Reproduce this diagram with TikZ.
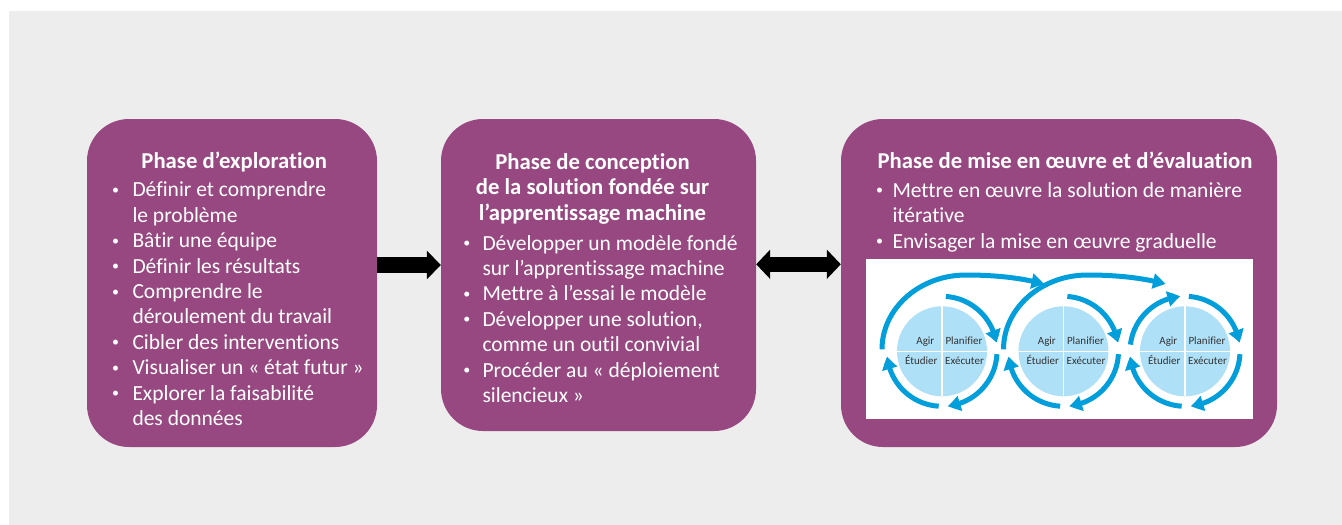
\documentclass[tikz,border=0pt]{standalone}
\usepackage{fontspec}
\setmainfont{Carlito}[Ligatures=NoCommon]
\usetikzlibrary{arrows.meta,bending}
\definecolor{bggray}{HTML}{EDEDED}
\definecolor{plum}{HTML}{984880}
\definecolor{cycblue}{HTML}{009EDB}
\definecolor{qblue}{HTML}{AEE0F7}
\definecolor{qtext}{HTML}{333333}
\newcommand\bul[1]{\llap{\makebox[0pt]{\raisebox{2.4pt}{\fontsize{14}{14}\selectfont •}}\hspace{#1pt}}}
\newcommand\listfont{\fontsize{21.5}{25.4}\selectfont}
\newcommand\titlefont{\fontsize{22.7}{25.5}\selectfont\bfseries}
\begin{document}
\begin{tikzpicture}[x=1pt,y=-1pt,
  phasebox/.style={rectangle, rounded corners=42pt, fill=plum, inner sep=0pt},
  titletext/.style={text=white, inner sep=0pt, anchor=base, font=\titlefont},
  listtext/.style={text=white, inner sep=0pt, anchor=base west, font=\listfont},
  bigarrow/.style={draw=black, line width=16pt},
  cycarrow/.style={draw=cycblue, line width=5pt, -{Triangle[length=12.5pt,width=15pt,bend]}},
  qlabel/.style={text=qtext, inner sep=0pt, font=\fontsize{11}{13}\selectfont},
]
\useasboundingbox (0,0) rectangle (1342,525);
\fill[white] (0,0) rectangle (1342,525);
\fill[bggray] (9,11) rectangle (1342,525);

% phase boxes
\node[phasebox, minimum width=290pt, minimum height=328pt] (b1) at (232,283) {};
\node[phasebox, minimum width=315pt, minimum height=312pt] (b2) at (598.5,275) {};
\node[phasebox, minimum width=436pt, minimum height=328pt] (b3) at (1059,283) {};

% connectors
\coordinate (ya) at (0,265);
\coordinate (yb) at (0,264.3);
\draw[bigarrow, -{Triangle[length=14pt,width=28pt]}] (b1.east |- ya) -- (b2.west |- ya);
\draw[draw=black, line width=14.7pt, {Triangle[length=14pt,width=28.6pt]}-{Triangle[length=14pt,width=28.6pt]}] (b2.east |- yb) -- (b3.west |- yb);

% titles
\node[titletext] (t1) at (234.2,168.3) {Phase d’exploration};
\node[titletext] (t2) at (592.5,169.3) {\begin{tabular}[t]{@{}c@{}}Phase de conception\\de la solution fondée sur\\l’apprentissage machine\end{tabular}};
\node[titletext] (t3) at (1065,168.3) {Phase de mise en œuvre et d’évaluation};

% lists
\node[listtext] (l1) at (132.3,196.8) {\begin{tabular}[t]{@{}l@{}}
\bul{17}Définir et comprendre\\
le problème\\
\bul{17}Bâtir une équipe\\
\bul{17}Définir les résultats\\
\bul{17}Comprendre le\\
déroulement du travail\\
\bul{17}Cibler des interventions\\
\bul{17}Visualiser un «~état futur~»\\
\bul{17}Explorer la faisabilité\\
des données\end{tabular}};
\node[listtext] (l2) at (482.3,250) {\begin{tabular}[t]{@{}l@{}}
\bul{15.6}Développer un modèle fondé\\
sur l’apprentissage machine\\
\bul{15.6}Mettre à l’essai le modèle\\
\bul{15.6}Développer une solution,\\
comme un outil convivial\\
\bul{15.6}Procéder au «~déploiement\\
silencieux~»\end{tabular}};
\node[listtext] (l3) at (892.3,197.3) {\begin{tabular}[t]{@{}l@{}}
\bul{13}Mettre en œuvre la solution de manière\\
itérative\\
\bul{13}Envisager la mise en œuvre graduelle\end{tabular}};

% PDCA panel
\node[fill=white, inner sep=0pt, minimum width=387pt, minimum height=160pt] (panel) at (1059.5,339) {};
\coordinate (c1) at (942,351.3);
\coordinate (c2) at (1063.5,351.3);
\coordinate (c3) at (1185,351.3);
\foreach \c in {c1,c2,c3}{
  \fill[qblue] (\c) circle[radius=45];
  \draw[white, line width=1.5pt] ([shift={(0,-45)}]\c) -- ([shift={(0,45)}]\c);
  \draw[white, line width=1.5pt] ([shift={(-45,0)}]\c) -- ([shift={(45,0)}]\c);
  \node[qlabel, anchor=base east] (\c-agir) at ([shift={(-7.5,-6.6)}]\c) {Agir};
  \node[qlabel, anchor=base west] (\c-plan) at ([shift={(3.3,-6.6)}]\c) {Planifier};
  \node[qlabel, anchor=base east] (\c-etud) at ([shift={(-4.3,13)}]\c) {Étudier};
  \node[qlabel, anchor=base west] (\c-exec) at ([shift={(3,13)}]\c) {Exécuter};
  \draw[cycarrow] ([shift={(-86:55)}]\c) arc[start angle=-86, end angle=-9, radius=55];
  \draw[cycarrow] ([shift={(3:55)}]\c) arc[start angle=3, end angle=84, radius=55];
  \draw[cycarrow] ([shift={(93.5:55)}]\c) arc[start angle=93.5, end angle=174.5, radius=55];
}
\foreach \c in {c1,c2}{
  \draw[cycarrow] ([shift={(-60,-2)}]\c) .. controls ([shift={(-60,-43)}]\c) and ([shift={(-22.4,-76.3)}]\c) .. ([shift={(24,-76.3)}]\c) .. controls ([shift={(54,-76.3)}]\c) and ([shift={(80,-73.3)}]\c) .. ([shift={(102,-67.3)}]\c);
}
\draw[cycarrow] ([shift={(-173:55)}]c3) arc[start angle=-173, end angle=-95, radius=55];
\end{tikzpicture}
\end{document}
